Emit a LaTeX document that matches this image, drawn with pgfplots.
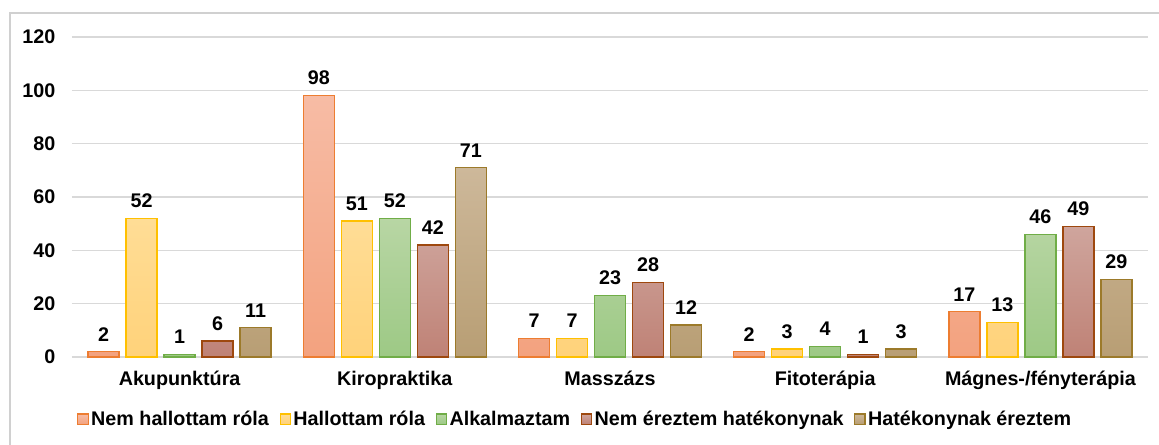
\documentclass[border=0pt]{standalone}
\usepackage{pgfplots}
\pgfplotsset{compat=1.18}
\usepackage{fontspec}
\setmainfont{Liberation Sans}
\definecolor{gridgray}{HTML}{D9D9D9}
\definecolor{frame}{HTML}{D0D0D0}
\definecolor{b1}{HTML}{ED7D31}\definecolor{t1}{HTML}{F7BCA5}\definecolor{u1}{HTML}{F3A27F}
\definecolor{b2}{HTML}{FFC000}\definecolor{t2}{HTML}{FFDD96}\definecolor{u2}{HTML}{FFD27A}
\definecolor{b3}{HTML}{70AD47}\definecolor{t3}{HTML}{B8D6A4}\definecolor{u3}{HTML}{9DC985}
\definecolor{b4}{HTML}{9E480E}\definecolor{t4}{HTML}{CFA59D}\definecolor{u4}{HTML}{BF8276}
\definecolor{b5}{HTML}{9C7A2A}\definecolor{t5}{HTML}{CDB89A}\definecolor{u5}{HTML}{B89E74}
\newcommand{\lf}{\bfseries\fontsize{14.8}{17}\selectfont}
\begin{document}
\begin{tikzpicture}
\useasboundingbox (-54pt,-65.25pt) rectangle (815.25pt,267.75pt);
\draw[frame, line width=0.8pt] (-46.5pt,-66pt) -- (-46.5pt,258pt) -- (816pt,258pt);
\begin{axis}[
  scale only axis, width=807pt, height=240pt,
  ybar=5.25pt, bar width=23.25pt,
  xmin=-0.5, xmax=4.5, ymin=0, ymax=120,
  xtick={0,1,2,3,4},
  xticklabels={Akupunktúra,Kiropraktika,Masszázs,Fitoterápia,Mágnes-/fényterápia},
  ytick={0,20,...,120},
  ymajorgrids, grid style={draw=gridgray, line width=0.8pt},
  axis line style={draw=none}, major tick length=0pt, tick style={draw=none},
  /pgf/number format/assume math mode=true,
  ticklabel style={font=\lf},
  yticklabel style={xshift=-9pt},
  xticklabel style={yshift=-7pt},
  nodes near coords,
  nodes near coords style={font=\lf, yshift=4pt, /pgf/number format/assume math mode=true},
  every axis plot/.append style={line width=1.1pt},
  legend columns=5,
  legend style={at={(0.468,-0.194)}, anchor=center, draw=none, fill=none,
    font=\lf, inner xsep=0pt,
    /tikz/every even column/.append style={column sep=6pt}},
  legend image code/.code={\draw[#1, line width=0.8pt] (0pt,-3.8pt) rectangle (7.6pt,3.8pt);},
]
\addplot[draw=b1, top color=t1, bottom color=u1] coordinates {(0,2) (1,98) (2,7) (3,2) (4,17)};
\addplot[draw=b2, top color=t2, bottom color=u2] coordinates {(0,52) (1,51) (2,7) (3,3) (4,13)};
\addplot[draw=b3, top color=t3, bottom color=u3] coordinates {(0,1) (1,52) (2,23) (3,4) (4,46)};
\addplot[draw=b4, top color=t4, bottom color=u4] coordinates {(0,6) (1,42) (2,28) (3,1) (4,49)};
\addplot[draw=b5, top color=t5, bottom color=u5] coordinates {(0,11) (1,71) (2,12) (3,3) (4,29)};
\legend{Nem hallottam róla, Hallottam róla, Alkalmaztam, Nem éreztem hatékonynak, Hatékonynak éreztem}
\end{axis}
\end{tikzpicture}
\end{document}
